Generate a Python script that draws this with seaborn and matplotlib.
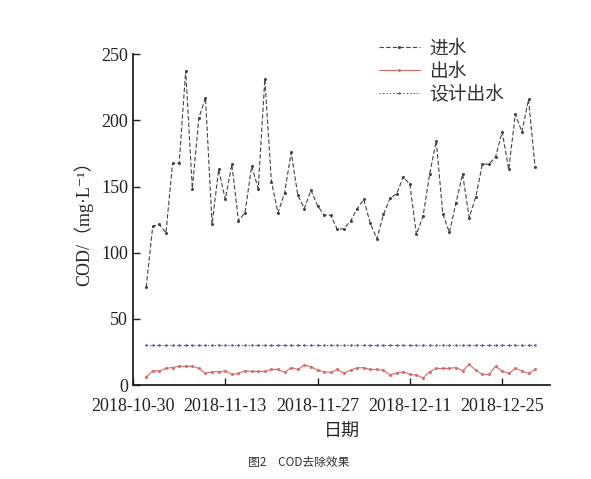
"""COD removal chart: influent, effluent and design effluent."""

import matplotlib
matplotlib.use("Agg")
import matplotlib.dates as mdates
import matplotlib.pyplot as plt
import pandas as pd
import seaborn as sns

START_DAY = "2018-11-01"
XLIM = ("2018-10-30", "2019-01-01 07:00")
TICK_DAYS = ["2018-10-30", "2018-11-13", "2018-11-27", "2018-12-11", "2018-12-25"]

influent = [
    74, 120, 121.4, 115, 167.4, 167.4, 237.4, 148.5, 201.9, 217,
    121.6, 162.9, 140.3, 166.7, 124.1, 130.2, 165.4, 148.5, 231.1, 153.5,
    130.2, 145.3, 175.7, 143.5, 133.4, 147.3, 135.4, 128.4, 128.2, 117.6,
    118.1, 123.9, 133.2, 140.3, 122.1, 110.5, 128.9, 141.2, 144.5, 157.3,
    151.6, 113.8, 127.6, 159.4, 184.5, 129.2, 115.3, 137.7, 159.4, 126.6,
    142.2, 166.9, 166.9, 172.4, 191.3, 162.9, 204.7, 191.3, 215.8, 164.4,
]
effluent = [
    6, 10.8, 10.8, 12.6, 13.3, 14.3, 14.3, 14.3, 12.6, 8.8,
    10.1, 10.1, 10.8, 8.1, 8.8, 10.8, 10.3, 10.3, 10.3, 11.8,
    11.8, 9.6, 13.3, 11.8, 15.1, 13.9, 11.3, 10.1, 9.6, 11.8,
    9.0, 11.3, 13.1, 13.1, 11.8, 11.8, 11.3, 7.6, 9.3, 10.1,
    8.1, 7.6, 5.5, 10.1, 12.6, 12.6, 12.6, 13.3, 10.8, 15.6,
    11.3, 8.1, 8.1, 14.3, 10.6, 8.8, 12.6, 10.8, 8.8, 11.8,
]
design_effluent = [30] * 60

dates = pd.date_range(START_DAY, periods=len(influent), freq="D")

sns.set_style("ticks")
plt.rcParams["font.family"] = ["Liberation Serif", "Noto Sans CJK SC", "DejaVu Sans"]

fig = plt.figure(figsize=(5.91, 4.79), dpi=100)
ax = fig.add_axes([0.225, 0.196, 0.706, 0.691])

sns.lineplot(x=dates, y=influent, ax=ax, color="#444444", linestyle=(0, (4, 2)),
             linewidth=0.8, marker="o", markersize=2.2, markeredgewidth=0,
             label="进水")
sns.lineplot(x=dates, y=effluent, ax=ax, color="#d96a6a", linewidth=0.8,
             marker="o", markersize=2.2, markeredgewidth=0, label="出水")
sns.lineplot(x=dates, y=design_effluent, ax=ax, color="#4a56a0",
             linestyle=(0, (1.5, 2)), linewidth=0.7, marker="o", markersize=1.8,
             markeredgewidth=0, label="设计出水")

ax.set_xlim(pd.Timestamp(XLIM[0]), pd.Timestamp(XLIM[1]))
ax.set_ylim(0, 250)
ax.set_yticks([0, 50, 100, 150, 200, 250])
ax.set_xticks(pd.to_datetime(TICK_DAYS))
ax.xaxis.set_major_formatter(mdates.DateFormatter("%Y-%m-%d"))
ax.tick_params(direction="in", length=5, width=1, labelsize=13, colors="#222222")
ax.tick_params(axis="x", pad=9)
for side in ("top", "right"):
    ax.spines[side].set_visible(False)
for side in ("left", "bottom"):
    ax.spines[side].set_color("#222222")
    ax.spines[side].set_linewidth(1.3)

ax.set_xlabel("日期", fontsize=13, family=["Noto Sans CJK SC"], labelpad=6)
ax.set_ylabel("COD/（mg·L⁻¹）", fontsize=13, labelpad=6)

leg = ax.legend(loc="upper right", bbox_to_anchor=(0.93, 1.1), frameon=False,
                prop={"family": "Noto Sans CJK SC", "size": 13.5},
                handlelength=2.2, handletextpad=0.5, labelspacing=0.1)
for text in leg.get_texts():
    text.set_color("#333333")

fig.text(0.505, 0.035, "图2　COD去除效果", ha="center", va="center", fontsize=8.5,
         family=["Noto Sans CJK SC"], color="#333333")

fig.savefig("out.png", dpi=100)
plt.close(fig)
